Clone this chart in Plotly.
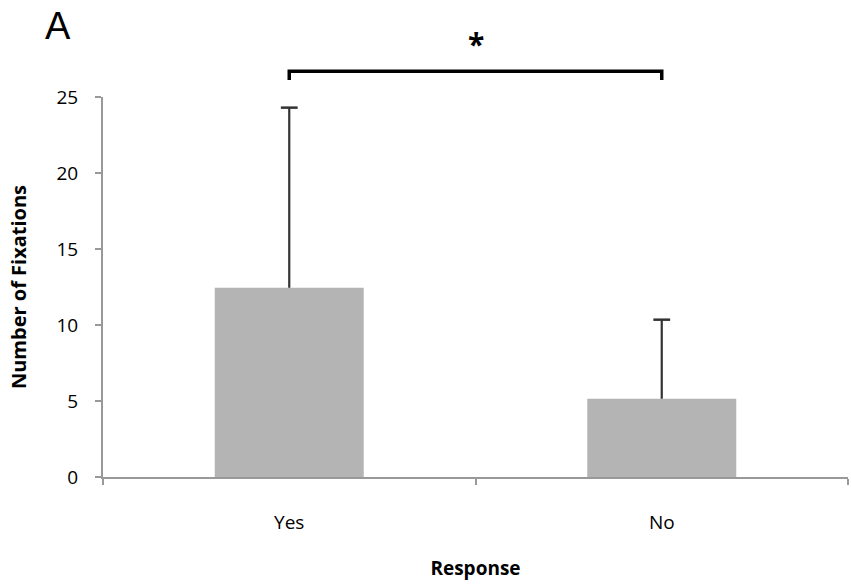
import plotly.graph_objects as go

categories = ["Yes", "No"]
means = [12.45, 5.15]
err_upper = [11.85, 5.2]
y_ticks = [0, 5, 10, 15, 20, 25]

FONT = "Open Sans, sans-serif"

tops = [m + e for m, e in zip(means, err_upper)]

fig = go.Figure()
fig.add_trace(go.Bar(
    x=categories, y=means,
    marker=dict(color="#b4b4b4", line=dict(width=0)),
    width=0.4,
    error_y=dict(type="data", symmetric=False, array=err_upper,
                 arrayminus=[0, 0], color="#333333", thickness=2.2, width=0),
))
# caps on top of error bars
fig.add_trace(go.Scatter(
    x=categories, y=tops, mode="markers",
    marker=dict(symbol="line-ew", size=12, line=dict(color="#333333", width=2.5)),
    hoverinfo="skip",
))

# significance bracket
fig.add_shape(type="path", xref="x", yref="paper",
              path="M 0,1.045 L 0,1.068 L 1,1.068 L 1,1.045",
              line=dict(color="black", width=3.5))
fig.add_annotation(x=0.5, xref="x", y=1.14, yref="paper", text="<b>*</b>",
                   showarrow=False, font=dict(size=30, color="black", family=FONT),
                   yanchor="middle")
fig.add_annotation(x=-0.061, xref="paper", y=1.186, yref="paper", text="A",
                   showarrow=False, font=dict(size=38, color="black", family="Liberation Sans"),
                   xanchor="center", yanchor="middle")

fig.update_layout(
    width=851, height=585,
    margin=dict(l=103, r=3, t=97, b=108),
    paper_bgcolor="white", plot_bgcolor="white",
    showlegend=False,
    font=dict(family=FONT, size=19, color="black"),
    xaxis=dict(
        showline=True, linecolor="#999999", linewidth=2,
        ticks="outside", tickson="boundaries", ticklen=6, tickcolor="#999999", tickwidth=1.5,
        ticklabelstandoff=27,
        title=dict(text="<b>Response</b>", font=dict(size=19), standoff=28),
        showgrid=False, zeroline=False,
    ),
    yaxis=dict(
        range=[0, 25], tickvals=y_ticks,
        showline=True, linecolor="#999999", linewidth=2,
        ticks="outside", ticklen=6, tickcolor="#999999", tickwidth=1.5,
        ticklabelstandoff=13,
        title=dict(text="<b>Number of Fixations</b>", font=dict(size=20), standoff=24),
        showgrid=False, zeroline=False,
    ),
)

fig.write_html("out.html", config={"displayModeBar": False})

with open("out.html", "r", encoding="utf-8") as f:
    html = f.read()
html = html.replace("<body>", '<body style="margin:0;padding:0;">', 1)
with open("out.html", "w", encoding="utf-8") as f:
    f.write(html)
